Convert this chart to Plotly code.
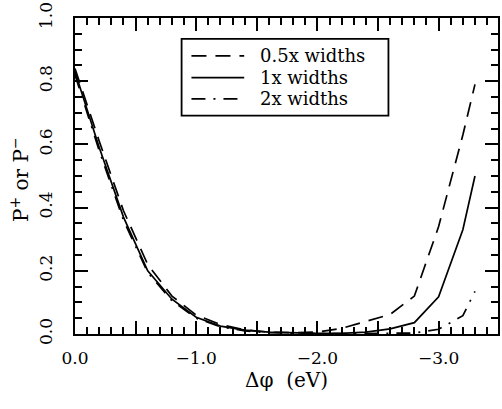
import plotly.graph_objects as go

x_vals = [0.0, -0.2, -0.4, -0.6, -0.8, -1.0, -1.2, -1.4, -1.6, -1.8, -2.0,
          -2.2, -2.4, -2.6, -2.8, -3.0, -3.2, -3.3]
p_half = [0.84, 0.61, 0.39, 0.22, 0.12, 0.06, 0.03, 0.013, 0.006, 0.004, 0.006,
          0.018, 0.04, 0.062, 0.12, 0.34, 0.63, 0.79]
p_one = [0.83, 0.59, 0.37, 0.20, 0.11, 0.053, 0.025, 0.012, 0.006, 0.003, 0.002,
         0.002, 0.006, 0.016, 0.036, 0.118, 0.33, 0.50]
p_two = [0.82, 0.58, 0.36, 0.195, 0.105, 0.05, 0.023, 0.01, 0.004, 0.002, 0.001,
         0.001, 0.001, 0.001, 0.003, 0.015, 0.058, 0.135]

series_names = ["0.5x widths", "1x widths", "2x widths"]

FONT = "DejaVu Serif"
X_RANGE = [0, -3.49]
Y_RANGE = [0, 1.0]
dashes = ["15px,9px", "solid", "14px,8px,2px,8px"]

fig = go.Figure()
for name, ys, d in zip(series_names, [p_half, p_one, p_two], dashes):
    fig.add_trace(go.Scatter(x=x_vals, y=ys, mode="lines", name=name,
                             showlegend=False, hoverinfo="skip",
                             line=dict(color="black", width=1.7, dash=d)))
# invisible trace that activates the labelled overlay x axis
fig.add_trace(go.Scatter(x=x_vals, y=p_one, xaxis="x2", yaxis="y", mode="lines",
                         line=dict(width=0, color="rgba(0,0,0,0)"),
                         showlegend=False, hoverinfo="skip"))

fig.update_layout(width=502, height=409, margin=dict(l=75, r=2, t=17, b=75),
                  plot_bgcolor="white", paper_bgcolor="white", showlegend=False)

fig.update_xaxes(range=X_RANGE, ticks="inside", ticklen=13, tickwidth=2,
                 tickcolor="#000000", dtick=0.5, tick0=0, showticklabels=False,
                 showline=True, linecolor="#000000", linewidth=2, mirror="ticks",
                 minor=dict(dtick=0.1, ticks="inside", ticklen=7, tickwidth=2,
                            tickcolor="#000000"),
                 selector=dict(overlaying=None))
fig.layout.xaxis2 = dict(
    range=X_RANGE, overlaying="x", side="bottom", anchor="y", ticks="",
    tick0=0, dtick=1, tickformat=".1f", showline=False, showgrid=False,
    zeroline=False, ticklabelstandoff=12,
    tickfont=dict(family=FONT, size=17, color="black"),
    title=dict(text="\u0394\u03c6  (eV)", standoff=2,
               font=dict(family=FONT, size=20, color="black")))
fig.update_yaxes(range=Y_RANGE, ticks="inside", ticklen=13, tickwidth=2,
                 tickcolor="#000000", dtick=0.2, tick0=0, tickformat=".1f",
                 tickangle=-90, ticklabelstandoff=14,
                 tickfont=dict(family=FONT, size=17, color="black"),
                 showline=True, linecolor="#000000", linewidth=2, mirror="ticks",
                 minor=dict(dtick=0.05, ticks="inside", ticklen=7, tickwidth=2,
                            tickcolor="#000000"))

# y axis title
fig.add_annotation(x=0, xref="paper", y=0.5, yref="paper",
                   text="P<sup>+</sup> or P<sup>\u2212</sup>", textangle=-90,
                   showarrow=False, xanchor="center", yanchor="middle",
                   xshift=-55, yshift=-4, font=dict(family=FONT, size=20, color="black"))

# legend box
lx0, lx1, ly0, ly1 = 0.252, 0.741, 0.691, 0.934
fig.add_shape(type="rect", xref="paper", yref="paper", x0=lx0, x1=lx1, y0=ly0, y1=ly1,
              line=dict(color="black", width=1.8), fillcolor="white", layer="above")
rows = [0.880, 0.811, 0.744]
for name, d, ry in zip(series_names, dashes, rows):
    fig.add_shape(type="line", xref="paper", yref="paper", x0=0.2753, x1=0.40,
                  y0=ry, y1=ry, line=dict(color="black", width=1.8, dash=d),
                  layer="above")
    fig.add_annotation(x=0.433, xref="paper", y=ry, yref="paper", text=name,
                       showarrow=False, xanchor="left", yanchor="middle",
                       font=dict(family=FONT, size=18, color="black"))

fig.write_html("out.html")
